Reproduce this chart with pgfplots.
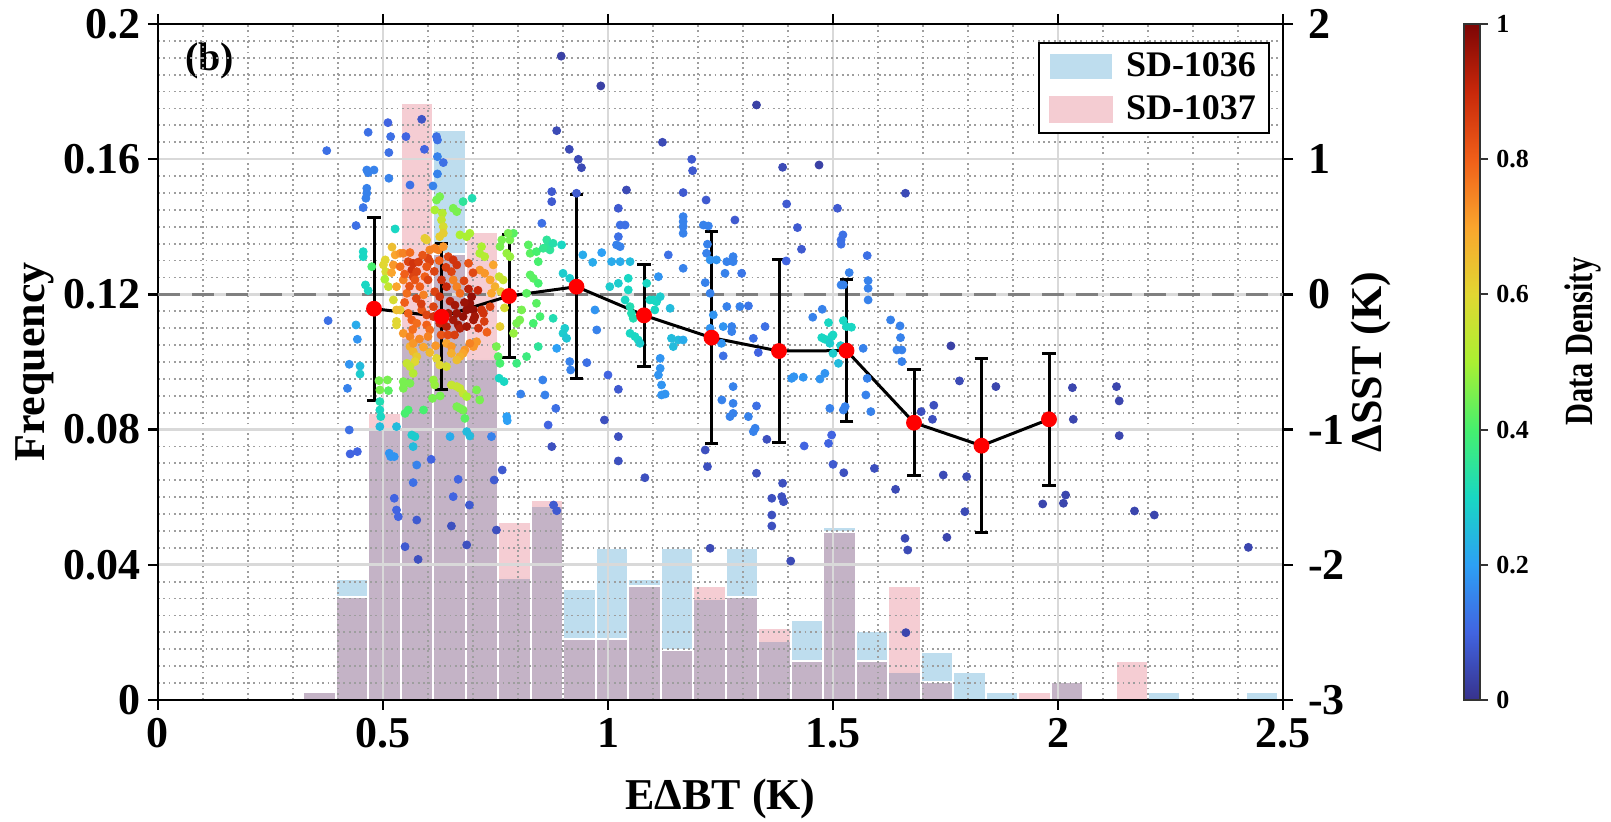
\documentclass[border=0pt]{standalone}
\usepackage{fontspec}
\setmainfont{Liberation Serif}
\usepackage{pgfplots}
\usepackage{pgfplotstable}
\pgfplotsset{compat=1.18}

\definecolor{barblue}{RGB}{190,221,238}
\definecolor{pinkbase}{RGB}{215,55,79}
\newcommand{\tfont}{\fontsize{22}{26}\selectfont\bfseries}

\pgfplotsset{colormap={dens}{rgb255(0cm)=(55,50,140); rgb255(1cm)=(65,100,225);
  rgb255(2cm)=(45,160,245); rgb255(3cm)=(25,215,195); rgb255(4cm)=(70,240,110);
  rgb255(5cm)=(170,240,50); rgb255(6cm)=(225,215,50); rgb255(7cm)=(250,165,45);
  rgb255(8cm)=(240,95,25); rgb255(9cm)=(200,40,10); rgb255(10cm)=(125,5,5)}}

% histogram, frequency per bin
\pgfplotstableread{
x      f
0.359  0.0025
0.431  0.0358
0.503  0.0800
0.576  0.1070
0.648  0.1686
0.720  0.1010
0.792  0.0360
0.864  0.0574
0.937  0.0328
1.009  0.0450
1.081  0.0358
1.153  0.0450
1.226  0.0300
1.298  0.0450
1.370  0.0174
1.442  0.0237
1.514  0.0512
1.587  0.0204
1.659  0.0083
1.731  0.0143
1.803  0.0083
1.875  0.0025
2.020  0.0053
2.236  0.0025
2.453  0.0025
}\histA
\pgfplotstableread{
x      f
0.359  0.0025
0.431  0.0305
0.503  0.0850
0.576  0.1766
0.648  0.1320
0.720  0.1385
0.792  0.0527
0.864  0.0592
0.937  0.0180
1.009  0.0180
1.081  0.0338
1.153  0.0148
1.226  0.0338
1.298  0.0305
1.370  0.0212
1.442  0.0115
1.514  0.0497
1.587  0.0115
1.659  0.0338
1.731  0.0053
1.948  0.0025
2.020  0.0053
2.164  0.0115
}\histB

% binned mean of dSST with std
\pgfplotstableread{
x     y       e
0.48  -0.106  0.678
0.63  -0.165  0.540
0.78  -0.012  0.458
0.93   0.057  0.680
1.08  -0.155  0.376
1.23  -0.320  0.782
1.38  -0.419  0.680
1.53  -0.416  0.523
1.68  -0.949  0.391
1.83  -1.119  0.644
1.98  -0.924  0.490
}\means

% scatter: EdBT, dSST, normalised density
\pgfplotstableread{
x y c
0.375 1.063 0.12
0.467 1.199 0.12
0.511 1.270 0.10
0.517 1.167 0.12
0.513 1.049 0.12
0.586 1.295 0.07
0.551 1.167 0.10
0.592 1.073 0.10
0.464 0.920 0.15
0.467 0.900 0.15
0.480 0.920 0.15
0.513 0.859 0.15
0.560 0.809 0.12
0.611 0.802 0.15
0.464 0.785 0.15
0.464 0.748 0.15
0.462 0.711 0.15
0.456 0.642 0.13
0.440 0.509 0.12
0.619 1.167 0.12
0.621 1.142 0.12
0.621 1.019 0.15
0.634 0.975 0.12
0.621 0.891 0.15
0.527 0.484 0.30
0.456 0.316 0.30
0.456 0.279 0.30
0.475 0.205 0.40
0.461 0.070 0.30
0.467 0.028 0.30
0.378 -0.194 0.12
0.440 -0.226 0.22
0.443 -0.332 0.18
0.425 -0.517 0.18
0.449 -0.530 0.25
0.449 -0.589 0.28
0.505 0.255 0.60
0.501 0.218 0.60
0.506 0.168 0.58
0.523 -0.041 0.58
0.530 -0.200 0.60
0.530 -0.226 0.60
0.504 0.112 0.50
0.512 0.057 0.55
0.538 -0.115 0.62
0.527 0.292 0.70
0.538 0.304 0.72
0.545 0.304 0.75
0.560 0.309 0.78
0.523 0.218 0.72
0.538 0.205 0.78
0.519 0.161 0.70
0.556 0.242 0.85
0.567 0.230 0.88
0.564 0.180 0.88
0.575 0.168 0.85
0.567 0.131 0.85
0.571 0.107 0.82
0.545 0.107 0.75
0.530 0.057 0.70
0.553 0.008 0.78
0.593 0.415 0.62
0.597 0.403 0.62
0.604 0.329 0.75
0.615 0.341 0.75
0.600 0.267 0.85
0.604 0.242 0.85
0.597 0.205 0.82
0.593 0.131 0.80
0.600 0.107 0.85
0.582 0.057 0.80
0.590 -0.004 0.75
0.626 0.723 0.45
0.619 0.698 0.45
0.615 0.624 0.50
0.632 0.600 0.52
0.630 0.550 0.55
0.634 0.501 0.58
0.656 0.637 0.45
0.664 0.612 0.45
0.678 0.686 0.35
0.698 0.711 0.32
0.634 0.452 0.62
0.626 0.427 0.62
0.671 0.440 0.50
0.693 0.452 0.50
0.686 0.427 0.50
0.623 0.329 0.75
0.634 0.353 0.72
0.645 0.279 0.85
0.656 0.255 0.88
0.664 0.218 0.88
0.652 0.168 0.85
0.656 0.107 0.75
0.664 0.057 0.75
0.671 0.008 0.78
0.630 0.107 0.88
0.641 0.057 0.90
0.615 0.020 0.85
0.626 -0.017 0.88
0.645 -0.140 0.95
0.656 -0.189 0.95
0.667 -0.226 0.95
0.671 -0.251 0.93
0.686 -0.238 0.95
0.697 -0.017 0.97
0.693 -0.066 0.97
0.701 -0.115 0.97
0.704 -0.164 0.95
0.701 -0.189 0.95
0.719 -0.115 0.88
0.723 -0.140 0.88
0.738 -0.091 0.85
0.715 0.180 0.72
0.726 0.156 0.72
0.738 0.107 0.70
0.715 0.304 0.50
0.719 0.353 0.50
0.726 0.279 0.52
0.745 0.218 0.70
0.749 0.057 0.68
0.741 0.008 0.70
0.760 -0.238 0.62
0.708 -0.350 0.72
0.701 -0.386 0.72
0.693 -0.362 0.75
0.682 -0.411 0.72
0.678 -0.436 0.70
0.671 -0.460 0.68
0.641 -0.362 0.70
0.652 -0.386 0.72
0.652 -0.436 0.68
0.664 -0.485 0.65
0.619 -0.473 0.60
0.626 -0.522 0.60
0.641 -0.534 0.58
0.560 -0.386 0.68
0.567 -0.423 0.66
0.575 -0.460 0.63
0.571 -0.497 0.60
0.553 -0.510 0.55
0.560 -0.534 0.55
0.567 -0.584 0.52
0.545 -0.288 0.72
0.560 -0.312 0.75
0.567 -0.362 0.72
0.556 -0.140 0.80
0.564 -0.189 0.80
0.575 -0.214 0.78
0.530 -0.115 0.65
0.597 -0.226 0.80
0.604 -0.263 0.78
0.600 -0.312 0.75
0.586 -0.115 0.82
0.597 -0.152 0.85
0.612 -0.164 0.88
0.626 -0.214 0.90
0.641 -0.238 0.92
0.612 -0.091 0.85
0.686 -0.115 0.97
0.678 -0.164 0.97
0.664 -0.140 0.96
0.548 0.150 0.80
0.559 0.060 0.82
0.574 -0.030 0.85
0.585 -0.070 0.86
0.579 0.240 0.86
0.588 0.290 0.82
0.548 -0.060 0.80
0.566 -0.260 0.78
0.581 -0.330 0.74
0.590 -0.390 0.70
0.604 -0.430 0.66
0.617 -0.380 0.72
0.629 -0.300 0.82
0.644 -0.300 0.84
0.659 -0.300 0.86
0.649 -0.050 0.93
0.660 -0.080 0.95
0.681 -0.060 0.96
0.690 0.040 0.92
0.680 0.100 0.85
0.711 0.030 0.90
0.712 -0.250 0.88
0.725 -0.200 0.86
0.731 -0.280 0.80
0.640 0.200 0.86
0.625 0.250 0.80
0.614 0.170 0.85
0.690 0.230 0.82
0.700 0.160 0.84
0.520 0.350 0.65
0.762 0.020 0.62
0.770 -0.100 0.58
0.760 0.353 0.45
0.764 0.403 0.45
0.775 0.304 0.48
0.782 0.279 0.48
0.782 0.403 0.45
0.790 0.452 0.42
0.778 0.452 0.45
0.758 0.131 0.55
0.767 0.107 0.55
0.804 -0.189 0.45
0.797 -0.214 0.45
0.790 -0.288 0.48
0.752 -0.386 0.45
0.756 -0.460 0.42
0.760 -0.510 0.40
0.823 0.366 0.42
0.827 0.304 0.42
0.841 0.316 0.40
0.845 0.242 0.40
0.864 0.403 0.35
0.867 0.366 0.35
0.871 0.329 0.35
0.856 0.341 0.36
0.878 0.378 0.33
0.897 0.366 0.30
0.827 0.144 0.42
0.834 0.119 0.42
0.845 0.082 0.40
0.841 -0.066 0.42
0.849 -0.164 0.40
0.834 -0.214 0.40
0.878 -0.177 0.32
0.845 -0.386 0.35
0.819 -0.460 0.38
0.797 -0.510 0.38
0.808 -0.115 0.45
0.819 0.008 0.42
0.853 0.526 0.12
0.875 0.760 0.08
0.875 0.686 0.08
0.886 1.211 0.05
0.914 1.073 0.05
0.934 0.999 0.05
0.941 0.937 0.05
0.930 0.748 0.08
0.984 1.542 0.03
0.896 1.762 0.03
0.944 0.292 0.22
0.966 0.237 0.22
0.986 0.309 0.20
0.900 0.156 0.28
0.915 0.119 0.28
0.971 -0.115 0.18
0.975 -0.263 0.15
0.904 -0.251 0.28
0.900 -0.288 0.28
0.908 -0.325 0.27
0.915 -0.497 0.15
0.953 -0.505 0.12
0.886 -0.399 0.20
1.000 -0.596 0.10
1.004 0.057 0.28
1.023 0.082 0.28
1.008 0.242 0.22
1.027 0.242 0.22
1.023 0.637 0.08
1.041 0.772 0.05
1.027 0.513 0.12
1.038 0.513 0.12
1.023 0.427 0.12
1.019 0.366 0.15
1.027 0.353 0.15
1.049 0.242 0.25
1.045 0.119 0.30
1.045 0.033 0.30
1.038 -0.041 0.30
1.049 -0.091 0.32
1.052 -0.140 0.32
1.056 -0.177 0.32
1.049 -0.288 0.30
1.060 -0.312 0.30
1.067 -0.337 0.30
1.071 -0.362 0.28
1.086 0.082 0.30
1.101 -0.041 0.30
1.093 -0.041 0.30
1.108 -0.054 0.30
1.104 -0.115 0.30
1.112 0.131 0.18
1.116 -0.017 0.28
1.121 1.125 0.05
1.134 0.292 0.12
1.138 -0.103 0.25
1.141 -0.325 0.25
1.156 -0.337 0.25
1.167 -0.337 0.22
1.145 -0.386 0.25
1.167 0.753 0.08
1.167 0.575 0.15
1.167 0.538 0.15
1.167 0.501 0.15
1.167 0.452 0.15
1.186 0.999 0.08
1.188 0.915 0.08
1.167 0.193 0.15
1.218 0.698 0.08
1.212 0.513 0.15
1.223 0.506 0.15
1.221 0.371 0.15
1.219 0.304 0.15
1.227 0.255 0.18
1.241 0.255 0.18
1.216 0.087 0.15
1.227 0.008 0.15
1.234 -0.152 0.18
1.227 -0.251 0.18
1.256 -0.238 0.18
1.252 -0.362 0.18
1.264 0.242 0.15
1.278 0.279 0.15
1.278 0.242 0.15
1.260 0.156 0.15
1.282 0.550 0.08
1.297 0.156 0.13
1.293 -0.090 0.15
1.312 -0.085 0.13
1.323 -0.325 0.12
1.334 -0.430 0.10
1.349 -0.238 0.12
1.264 -0.090 0.15
1.275 -0.238 0.15
1.275 -0.275 0.15
1.256 -0.455 0.12
1.330 1.401 0.03
1.388 0.940 0.05
1.469 0.957 0.03
1.397 0.669 0.08
1.421 0.494 0.08
1.430 0.334 0.08
1.396 0.247 0.10
1.510 0.637 0.08
1.522 0.440 0.12
1.518 0.403 0.12
1.518 0.371 0.12
1.576 0.287 0.12
1.661 0.748 0.05
1.536 0.161 0.15
1.518 0.070 0.15
1.523 0.070 0.15
1.578 0.102 0.15
1.578 0.045 0.15
1.578 -0.041 0.15
1.476 -0.110 0.15
1.455 -0.169 0.15
1.490 -0.209 0.30
1.523 -0.194 0.30
1.530 -0.238 0.30
1.541 -0.243 0.30
1.475 -0.320 0.30
1.482 -0.332 0.30
1.497 -0.312 0.30
1.500 -0.300 0.30
1.493 -0.362 0.28
1.517 -0.379 0.28
1.500 -0.436 0.28
1.512 -0.510 0.25
1.628 -0.189 0.15
1.649 -0.233 0.15
1.650 -0.320 0.15
1.642 -0.411 0.15
1.653 -0.411 0.15
1.653 -0.497 0.15
1.567 -0.399 0.15
1.762 -0.381 0.03
0.493 -0.707 0.45
0.510 -0.633 0.45
0.491 -0.638 0.45
0.512 -0.712 0.42
0.493 -0.793 0.32
0.493 -0.855 0.30
0.495 -0.904 0.30
0.493 -0.978 0.25
0.530 -0.978 0.25
0.425 -1.003 0.12
0.427 -1.180 0.10
0.443 -1.163 0.10
0.421 -0.695 0.15
0.514 -1.175 0.18
0.517 -1.200 0.18
0.525 -1.200 0.18
0.525 -1.508 0.10
0.530 -1.595 0.10
0.534 -1.644 0.10
0.549 -1.866 0.08
0.545 -0.645 0.45
0.560 -0.658 0.45
0.545 -0.695 0.45
0.549 -0.880 0.40
0.556 -0.855 0.40
0.590 -0.855 0.40
0.564 -1.040 0.28
0.571 -1.052 0.28
0.567 -1.126 0.25
0.575 -1.262 0.15
0.567 -1.392 0.12
0.575 -1.669 0.08
0.607 -1.220 0.10
0.612 -0.633 0.48
0.615 -0.670 0.48
0.610 -0.769 0.45
0.627 -0.751 0.45
0.649 -1.052 0.22
0.652 -0.670 0.55
0.664 -0.682 0.55
0.671 -0.695 0.55
0.678 -0.732 0.55
0.686 -0.756 0.50
0.664 -0.830 0.45
0.671 -0.843 0.45
0.678 -0.855 0.45
0.682 -0.917 0.42
0.686 -1.015 0.25
0.693 -1.047 0.25
0.667 -1.368 0.10
0.656 -1.496 0.10
0.652 -1.713 0.06
0.692 -1.558 0.08
0.686 -1.853 0.06
0.715 -0.781 0.45
0.708 -0.707 0.45
0.741 -1.052 0.15
0.747 -1.373 0.08
0.765 -1.299 0.08
0.752 -1.743 0.06
0.758 -0.620 0.30
0.769 -0.645 0.30
0.775 -0.904 0.20
0.776 -0.934 0.20
0.806 -0.737 0.15
0.860 -0.744 0.15
0.855 -0.633 0.15
0.884 -0.843 0.12
0.867 -0.966 0.10
0.875 -1.126 0.06
0.879 -1.558 0.08
0.886 -1.600 0.08
0.917 -0.559 0.15
1.023 -0.702 0.08
0.992 -0.929 0.06
1.023 -1.052 0.06
1.023 -1.232 0.06
1.082 -1.356 0.06
1.116 -0.473 0.18
1.116 -0.547 0.18
1.112 -0.596 0.18
1.119 -0.670 0.18
1.127 -0.737 0.18
1.119 -0.744 0.18
1.216 -1.151 0.06
1.221 -1.274 0.06
1.227 -1.878 0.05
1.253 -0.781 0.15
1.278 -0.806 0.15
1.278 -0.880 0.15
1.271 -0.904 0.15
1.278 -0.682 0.15
1.312 -0.904 0.15
1.327 -0.990 0.15
1.323 -1.015 0.15
1.330 -0.825 0.12
1.330 -1.323 0.06
1.353 -1.072 0.06
1.364 -1.508 0.06
1.364 -1.632 0.06
1.364 -1.713 0.06
1.408 -0.621 0.18
1.413 -0.609 0.18
1.434 -0.613 0.18
1.471 -0.626 0.18
1.482 -0.584 0.18
1.493 -0.843 0.15
1.497 -1.040 0.10
1.490 -1.102 0.10
1.436 -1.121 0.10
1.500 -1.257 0.08
1.524 -1.319 0.06
1.388 -1.397 0.06
1.386 -1.496 0.06
1.390 -1.533 0.06
1.592 -1.287 0.06
1.639 -1.442 0.05
1.660 -1.804 0.05
1.666 -1.891 0.05
1.753 -1.797 0.04
1.523 -0.855 0.15
1.527 -0.830 0.15
1.584 -0.867 0.15
1.573 -0.744 0.15
1.576 -0.621 0.15
1.696 -0.867 0.06
1.724 -0.820 0.06
1.721 -0.924 0.06
1.781 -0.640 0.05
1.745 -1.336 0.05
1.797 -1.348 0.05
1.793 -1.607 0.05
1.862 -0.682 0.04
1.966 -1.550 0.04
2.012 -1.545 0.04
2.017 -1.484 0.04
2.032 -0.690 0.04
2.034 -0.924 0.04
2.130 -0.682 0.04
2.136 -0.788 0.04
2.136 -1.045 0.04
2.170 -1.602 0.04
2.214 -1.632 0.04
2.423 -1.871 0.04
0.578 -1.960 0.06
1.406 -1.972 0.05
1.662 -2.502 0.04
}\pts

\begin{document}
\begin{tikzpicture}
\path (-79pt,-61pt) rectangle (726.5pt,350pt);

\begin{axis}[
  at={(0pt,0pt)}, anchor=south west,
  scale only axis, width=562.5pt, height=338pt,
  xmin=0, xmax=2.5, ymin=0, ymax=0.2,
  xtick={0,0.5,1,1.5,2,2.5},
  ytick={0,0.04,0.08,0.12,0.16,0.2},
  minor x tick num=4, minor y tick num=7,
  ytick pos=left, xtick pos=both,
  scaled y ticks=false,
  yticklabel style={/pgf/number format/.cd, fixed, precision=2},
  xticklabel style={inner sep=1pt, yshift=-2.8pt},
  /pgf/number format/assume math mode=true,
  tick label style={font=\tfont},
  label style={font=\tfont, inner sep=0pt},
  tick align=outside, major tick length=5pt, minor tick length=0pt,
  every tick/.style={black, line width=1.2pt},
  axis line style={line width=1.2pt},
  grid=both,
  major grid style={draw=black!15, line width=1.3pt},
  minor grid style={draw=black!38, line width=0.9pt, dash pattern=on 0.9pt off 1.75pt},
  axis on top,
  xlabel={EΔBT (K)},
  ylabel={Frequency},
  xlabel style={at={(axis description cs:0.5,-0.146)}, anchor=center},
  ylabel style={at={(axis description cs:-0.1093,0.5)}, anchor=center},
  legend style={at={(1,1)}, anchor=north east, xshift=-6.5pt, yshift=-9pt,
    draw=black, line width=1pt, font=\fontsize{18}{21}\selectfont\bfseries,
    cells={anchor=west}, inner xsep=4.5pt, inner ysep=3pt, row sep=4pt,
    /tikz/every odd column/.append style={column sep=4pt}},
  legend image code/.code={\fill[#1] (0pt,-6.75pt) rectangle (32pt,6.75pt);},
]
\addplot[ybar, bar shift=0pt, bar width=0.0722, fill=barblue, draw=white, line width=1pt] table[x=x, y=f] {\histA};
\addlegendentry{SD-1036}
\addplot[ybar, bar shift=0pt, bar width=0.0722, fill=pinkbase, fill opacity=0.25, draw=none] table[x=x, y=f] {\histB};
\addlegendentry{SD-1037}
\addplot[ybar, bar shift=0pt, bar width=0.0722, fill=none, draw=white, line width=1pt, forget plot] table[x=x, y=f] {\histB};
\node[font=\fontsize{20}{24}\selectfont\bfseries] at (axis cs:0.115,0.189) {(b)};
\end{axis}

\begin{axis}[
  at={(0pt,0pt)}, anchor=south west,
  scale only axis, width=562.5pt, height=338pt,
  xmin=0, xmax=2.5, ymin=-3, ymax=2,
  axis y line*=right, axis x line=none,
  ytick={-3,-2,-1,0,1,2},
  /pgf/number format/assume math mode=true,
  tick label style={font=\tfont},
  yticklabel style={inner sep=1pt, xshift=6.3pt},
  label style={font=\tfont, inner sep=0pt},
  tick align=outside, major tick length=5pt,
  every tick/.style={black, line width=1.2pt},
  axis line style={line width=1.2pt},
  ylabel={ΔSST (K)},
  ylabel style={at={(axis description cs:1.0782,0.5)}, anchor=center},
  colormap name=dens, point meta min=0, point meta max=1,
  colorbar right,
  colorbar style={
    at={(parent axis.south east)}, anchor=south west, xshift=82pt,
    width=8pt,
    ytick={0,0.2,0.4,0.6,0.8,1},
    ytick pos=right, tick align=outside, major tick length=4pt,
    every tick/.style={black!80, line width=1pt},
    axis line style={draw=black!80, line width=1pt},
    /pgf/number format/assume math mode=true,
    yticklabel style={font=\fontsize{13}{16}\selectfont\bfseries, inner sep=1pt, xshift=3pt},
    ylabel={\scalebox{0.76}[1]{Data Density}},
    ylabel style={font=\fontsize{20}{24}\selectfont\bfseries, inner sep=0pt, at={(axis description cs:7.4,0.53)}, anchor=center},
  },
]
\addplot[scatter, only marks, mark=*, mark size=2pt,
  scatter/use mapped color={draw=mapped color, fill=mapped color},
  point meta=explicit] table[x=x, y=y, meta=c] {\pts};
\addplot[draw=black!50, line width=1.8pt, dash pattern=on 11pt off 6pt] coordinates {(0,0) (2.5,0)};
\addplot[black, line width=1.5pt, mark=*, mark size=3.2pt,
  mark options={draw=red, fill=red},
  error bars/.cd, y dir=both, y explicit,
  error bar style={line width=1.5pt, black},
  error mark options={rotate=90, mark size=3.4pt, line width=1.5pt, black}]
  table[x=x, y=y, y error=e] {\means};
\end{axis}
\end{tikzpicture}
\end{document}
